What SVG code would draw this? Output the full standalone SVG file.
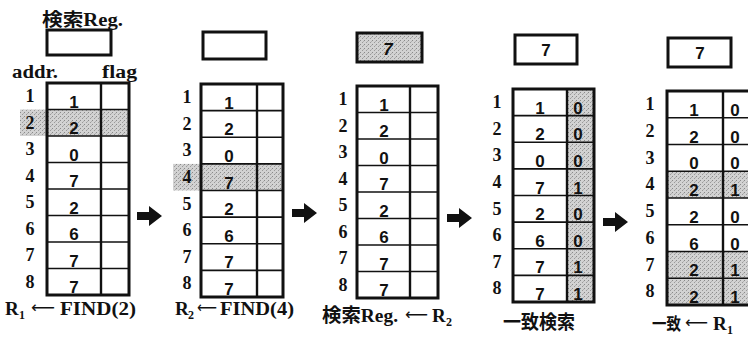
<svg xmlns="http://www.w3.org/2000/svg" width="748" height="339" viewBox="0 0 748 339">
  <defs>
    <pattern id="stipple" width="4" height="4" patternUnits="userSpaceOnUse">
      <rect width="4" height="4" fill="#d2d2d2"/>
      <rect x="0" y="0" width="1" height="1" fill="#8a8a8a"/>
      <rect x="2" y="2" width="1" height="1" fill="#9a9a9a"/>
      <rect x="3" y="1" width="1" height="1" fill="#b0b0b0"/>
    </pattern>
  </defs>
  <style>
    .frame { fill: none; stroke: #111; stroke-width: 3; }
    .row { stroke: #111; stroke-width: 1.6; }
    .div { stroke: #111; stroke-width: 2.4; }
    .reg { fill: #fff; stroke: #111; stroke-width: 3; }
    .shade { fill: url(#stipple); }
    .num { font-family: "Liberation Serif", serif; font-weight: bold; font-size: 18px; fill: #111; text-anchor: middle; }
    .val { font-family: "Liberation Sans", sans-serif; font-weight: bold; font-size: 17px; fill: #111; text-anchor: middle; }
    .lbl { font-family: "Liberation Serif", "Noto Sans CJK JP", serif; font-weight: bold; font-size: 18px; fill: #111; }
    .cap { font-family: "Liberation Serif", "Noto Sans CJK JP", serif; font-weight: bold; font-size: 19px; fill: #111; }
    .cjk { font-family: "Noto Sans CJK JP", sans-serif; font-weight: bold; }
    .sub { font-size: 12px; }
    .larr { font-family: "DejaVu Sans", sans-serif; font-weight: normal; font-size: 16px; }
    .arrow { fill: #111; }
  </style>
  <rect width="748" height="339" fill="#fff"/>

  <!-- step 1: R1 <- FIND(2) -->
  <g id="table1">
    <text class="lbl" x="42" y="26" textLength="81" lengthAdjust="spacingAndGlyphs"><tspan class="cjk">検索</tspan>Reg.</text>
    <rect class="reg" x="47" y="30" width="64" height="25"/>
    <text class="lbl" x="12" y="78" textLength="46" lengthAdjust="spacingAndGlyphs">addr.</text>
    <text class="lbl" x="102" y="78" textLength="35" lengthAdjust="spacingAndGlyphs">flag</text>
    <rect class="shade" x="20" y="109.5" width="109" height="26.5"/>
    <rect class="frame" x="47" y="83" width="82" height="212"/>
    <line class="div" x1="101" y1="83" x2="101" y2="295"/>
    <g class="row">
      <line x1="47" y1="109.5" x2="129" y2="109.5"/><line x1="47" y1="136" x2="129" y2="136"/>
      <line x1="47" y1="162.5" x2="129" y2="162.5"/><line x1="47" y1="189" x2="129" y2="189"/>
      <line x1="47" y1="215.5" x2="129" y2="215.5"/><line x1="47" y1="242" x2="129" y2="242"/>
      <line x1="47" y1="268.5" x2="129" y2="268.5"/>
    </g>
    <g class="num">
      <text x="30" y="102">1</text><text x="30" y="128.5">2</text><text x="30" y="155">3</text>
      <text x="30" y="181.5">4</text><text x="30" y="208">5</text><text x="30" y="234.5">6</text>
      <text x="30" y="261">7</text><text x="30" y="287.5">8</text>
    </g>
    <g class="val">
      <text x="74" y="107.5">1</text><text x="74" y="134">2</text><text x="74" y="160.5">0</text>
      <text x="74" y="187">7</text><text x="74" y="213.5">2</text><text x="74" y="240">6</text>
      <text x="74" y="266.5">7</text><text x="74" y="293">7</text>
    </g>
    <text class="cap" y="315"><tspan x="5">R</tspan><tspan class="sub" x="19" y="319">1</tspan><tspan class="larr" x="31" y="313" textLength="24" lengthAdjust="spacingAndGlyphs">⟵</tspan><tspan x="60" y="315" textLength="76" lengthAdjust="spacingAndGlyphs">FIND(2)</tspan></text>
  </g>

  <!-- step 2: R2 <- FIND(4) -->
  <g id="table2">
    <rect class="reg" x="203" y="32" width="63" height="27"/>
    <rect class="shade" x="173" y="163.9" width="110" height="26.6"/>
    <rect class="frame" x="201" y="84" width="82" height="213"/>
    <line class="div" x1="257" y1="84" x2="257" y2="297"/>
    <g class="row">
      <line x1="201" y1="110.6" x2="283" y2="110.6"/><line x1="201" y1="137.25" x2="283" y2="137.25"/>
      <line x1="201" y1="163.9" x2="283" y2="163.9"/><line x1="201" y1="190.5" x2="283" y2="190.5"/>
      <line x1="201" y1="217.1" x2="283" y2="217.1"/><line x1="201" y1="243.75" x2="283" y2="243.75"/>
      <line x1="201" y1="270.4" x2="283" y2="270.4"/>
    </g>
    <g class="num">
      <text x="187" y="103">1</text><text x="187" y="129.6">2</text><text x="187" y="156.2">3</text>
      <text x="187" y="182.9">4</text><text x="187" y="209.5">5</text><text x="187" y="236.1">6</text>
      <text x="187" y="262.7">7</text><text x="187" y="289.4">8</text>
    </g>
    <g class="val">
      <text x="229" y="108.6">1</text><text x="229" y="135.2">2</text><text x="229" y="161.9">0</text>
      <text x="229" y="188.5">7</text><text x="229" y="215.1">2</text><text x="229" y="241.7">6</text>
      <text x="229" y="268.4">7</text><text x="229" y="295">7</text>
    </g>
    <text class="cap" y="315"><tspan x="175">R</tspan><tspan class="sub" x="188" y="319">2</tspan><tspan class="larr" x="197" y="313" textLength="20" lengthAdjust="spacingAndGlyphs">⟵</tspan><tspan x="220" y="315" textLength="74" lengthAdjust="spacingAndGlyphs">FIND(4)</tspan></text>
  </g>

  <!-- step 3: search register <- R2 -->
  <g id="table3">
    <rect class="reg" x="357" y="33" width="65" height="29" style="fill:url(#stipple)"/>
    <text class="val" x="388" y="55" font-style="italic">7</text>
    <rect class="frame" x="357" y="86" width="81" height="212"/>
    <line class="div" x1="410" y1="86" x2="410" y2="298"/>
    <g class="row">
      <line x1="357" y1="112.5" x2="438" y2="112.5"/><line x1="357" y1="139" x2="438" y2="139"/>
      <line x1="357" y1="165.5" x2="438" y2="165.5"/><line x1="357" y1="192" x2="438" y2="192"/>
      <line x1="357" y1="218.5" x2="438" y2="218.5"/><line x1="357" y1="245" x2="438" y2="245"/>
      <line x1="357" y1="271.5" x2="438" y2="271.5"/>
    </g>
    <g class="num">
      <text x="343" y="105">1</text><text x="343" y="131.5">2</text><text x="343" y="158">3</text>
      <text x="343" y="184.5">4</text><text x="343" y="211">5</text><text x="343" y="237.5">6</text>
      <text x="343" y="264">7</text><text x="343" y="290.5">8</text>
    </g>
    <g class="val">
      <text x="384" y="110.5">1</text><text x="384" y="137">2</text><text x="384" y="163.5">0</text>
      <text x="384" y="190">7</text><text x="384" y="216.5">2</text><text x="384" y="243">6</text>
      <text x="384" y="269.5">7</text><text x="384" y="296">7</text>
    </g>
    <text class="cap" y="322"><tspan x="322" textLength="76" lengthAdjust="spacingAndGlyphs"><tspan class="cjk">検索</tspan>Reg.</tspan><tspan class="larr" x="405" y="320" textLength="23" lengthAdjust="spacingAndGlyphs">⟵</tspan><tspan x="432" y="322">R</tspan><tspan class="sub" x="446" y="326">2</tspan></text>
  </g>

  <!-- step 4: associative match -->
  <g id="table4">
    <rect class="reg" x="515" y="35" width="62" height="29"/>
    <text class="val" x="546" y="56">7</text>
    <rect class="shade" x="567" y="89" width="27" height="213"/>
    <rect class="frame" x="513" y="89" width="81" height="213"/>
    <line class="div" x1="567" y1="89" x2="567" y2="302"/>
    <g class="row">
      <line x1="513" y1="115.6" x2="594" y2="115.6"/><line x1="513" y1="142.25" x2="594" y2="142.25"/>
      <line x1="513" y1="168.9" x2="594" y2="168.9"/><line x1="513" y1="195.5" x2="594" y2="195.5"/>
      <line x1="513" y1="222.1" x2="594" y2="222.1"/><line x1="513" y1="248.75" x2="594" y2="248.75"/>
      <line x1="513" y1="275.4" x2="594" y2="275.4"/>
    </g>
    <g class="num">
      <text x="497" y="108">1</text><text x="497" y="134.6">2</text><text x="497" y="161.2">3</text>
      <text x="497" y="187.9">4</text><text x="497" y="214.5">5</text><text x="497" y="241.1">6</text>
      <text x="497" y="267.7">7</text><text x="497" y="294.4">8</text>
    </g>
    <g class="val">
      <text x="540" y="113.6">1</text><text x="540" y="140.2">2</text><text x="540" y="166.9">0</text>
      <text x="540" y="193.5">7</text><text x="540" y="220.1">2</text><text x="540" y="246.7">6</text>
      <text x="540" y="273.4">7</text><text x="540" y="300">7</text>
    </g>
    <g class="val">
      <text x="578" y="113.6">0</text><text x="578" y="140.2">0</text><text x="578" y="166.9">0</text>
      <text x="578" y="193.5">1</text><text x="578" y="220.1">0</text><text x="578" y="246.7">0</text>
      <text x="578" y="273.4">1</text><text x="578" y="300">1</text>
    </g>
    <text class="cap cjk" x="503" y="329" font-size="17" textLength="72" lengthAdjust="spacingAndGlyphs">一致検索</text>
  </g>

  <!-- step 5: matched rows <- R1 -->
  <g id="table5">
    <rect class="reg" x="668" y="38" width="63" height="29"/>
    <text class="val" x="700" y="59">7</text>
    <rect class="shade" x="667" y="171.25" width="87" height="26.75"/>
    <rect class="shade" x="667" y="251.5" width="87" height="53.5"/>
    <rect class="frame" x="667" y="91" width="87" height="214"/>
    <line class="div" x1="723" y1="91" x2="723" y2="305"/>
    <g class="row">
      <line x1="667" y1="117.75" x2="754" y2="117.75"/><line x1="667" y1="144.5" x2="754" y2="144.5"/>
      <line x1="667" y1="171.25" x2="754" y2="171.25"/><line x1="667" y1="198" x2="754" y2="198"/>
      <line x1="667" y1="224.75" x2="754" y2="224.75"/><line x1="667" y1="251.5" x2="754" y2="251.5"/>
      <line x1="667" y1="278.25" x2="754" y2="278.25"/>
    </g>
    <g class="num">
      <text x="650" y="110">1</text><text x="650" y="136.75">2</text><text x="650" y="163.5">3</text>
      <text x="650" y="190.25">4</text><text x="650" y="217">5</text><text x="650" y="243.75">6</text>
      <text x="650" y="270.5">7</text><text x="650" y="297.25">8</text>
    </g>
    <g class="val">
      <text x="694" y="115.75">1</text><text x="694" y="142.5">2</text><text x="694" y="169.25">0</text>
      <text x="694" y="196">2</text><text x="694" y="222.75">2</text><text x="694" y="249.5">6</text>
      <text x="694" y="276.25">2</text><text x="694" y="303">2</text>
    </g>
    <g class="val">
      <text x="735" y="115.75">0</text><text x="735" y="142.5">0</text><text x="735" y="169.25">0</text>
      <text x="735" y="196">1</text><text x="735" y="222.75">0</text><text x="735" y="249.5">0</text>
      <text x="735" y="276.25">1</text><text x="735" y="303">1</text>
    </g>
    <text class="cap" y="330"><tspan class="cjk" x="652" font-size="17" textLength="29" lengthAdjust="spacingAndGlyphs">一致</tspan><tspan class="larr" x="685" y="328" textLength="23" lengthAdjust="spacingAndGlyphs">⟵</tspan><tspan x="713" y="330">R</tspan><tspan class="sub" x="727" y="334">1</tspan></text>
  </g>

  <!-- step arrows -->
  <g id="connectors">
    <polygon class="arrow" points="137,212 149,212 149,206 162,216 149,226 149,220 137,220"/>
    <polygon class="arrow" points="292,209 304,209 304,203 317,213 304,223 304,217 292,217"/>
    <polygon class="arrow" points="447,214 459,214 459,208 472,218 459,228 459,222 447,222"/>
    <polygon class="arrow" points="603,218 615,218 615,212 628,222 615,232 615,226 603,226"/>
  </g>
</svg>
